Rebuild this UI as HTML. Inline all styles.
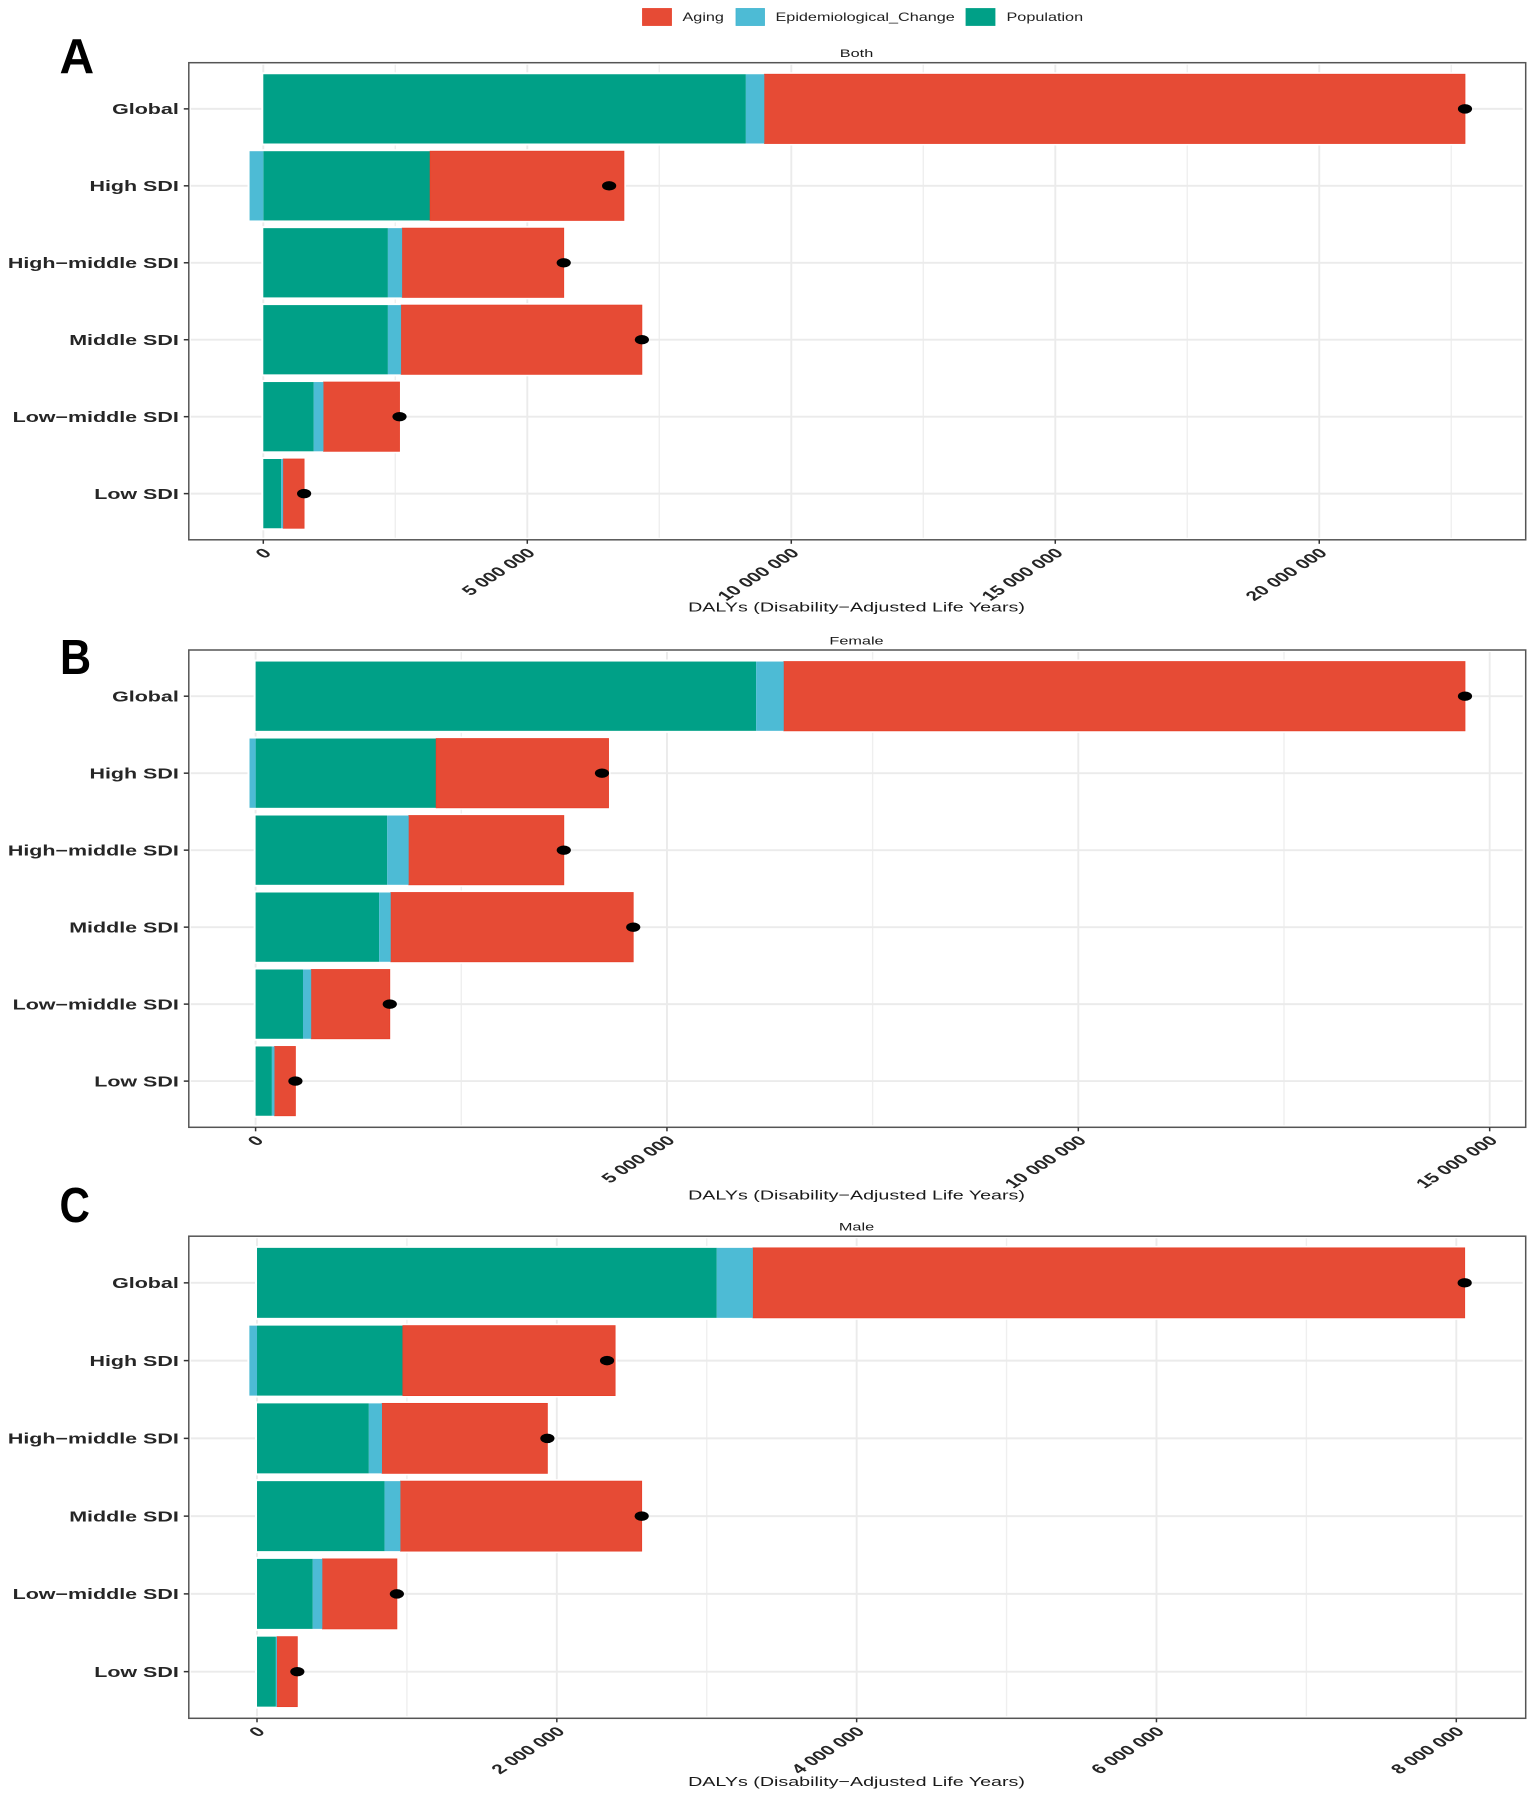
<!DOCTYPE html>
<html lang="en">
<head>
<meta charset="utf-8">
<title>DALYs decomposition by SDI</title>
<style>
  html, body { margin: 0; padding: 0; background: #fff; }
  svg { display: block; }
  text { font-family: "Liberation Sans", Arial, sans-serif; }
</style>
</head>
<body>
<svg id="chart" xmlns="http://www.w3.org/2000/svg" width="1535" height="1797" viewBox="0 0 1535 1797">
  <g>
    <g>
      <rect x="642.5" y="8.5" width="29" height="17" fill="#E64B35" stroke="#e8412b" stroke-width="0.8"/>
      <text transform="translate(682.5,21) scale(1.41,1)" font-size="11.5" fill="#222">Aging</text>
    </g>
    <g>
      <rect x="736" y="8.5" width="28.5" height="17" fill="#4DBBD5" stroke="#3fb4d0" stroke-width="0.8"/>
      <text transform="translate(775.5,21) scale(1.41,1)" font-size="11.5" fill="#222">Epidemiological_Change</text>
    </g>
    <g>
      <rect x="966" y="8.5" width="29" height="17" fill="#00A087" stroke="#00a087" stroke-width="0.8"/>
      <text transform="translate(1006.5,21) scale(1.41,1)" font-size="11.5" fill="#222">Population</text>
    </g>
  </g>
  <text transform="translate(59.5,73) scale(0.98,1)" font-size="49" font-weight="700" fill="#000">A</text>
  <text transform="translate(60,674) scale(0.88,1)" font-size="49" font-weight="700" fill="#000">B</text>
  <text transform="translate(59.5,1222) scale(0.86,1)" font-size="49" font-weight="700" fill="#000">C</text>
</svg>
<script>
const categories = ["Global", "High SDI", "High\u2212middle SDI", "Middle SDI", "Low\u2212middle SDI", "Low SDI"];

const bothPopulation = [9140000, 3160000, 2360000, 2360000, 956000, 337000];
const bothEpidemiological = [350000, -260000, 270000, 250000, 184000, 39000];
const bothAging = [13270000, 3670000, 3060000, 4560000, 1440000, 397000];
const bothTotal = [22760000, 6550000, 5690000, 7170000, 2580000, 773000];
const bothTicks = [0, 5000000, 10000000, 15000000, 20000000];
const bothTickLabels = ["0", "5 000 000", "10 000 000", "15 000 000", "20 000 000"];
const bothMinorTicks = [2500000, 7500000, 12500000, 17500000, 22500000];

const femalePopulation = [6084000, 2195000, 1600000, 1501000, 576000, 198000];
const femaleEpidemiological = [336000, -74000, 261000, 142000, 100000, 32000];
const femaleAging = [8280000, 2095000, 1885000, 2947000, 955000, 254000];
const femaleTotal = [14700000, 4210000, 3746000, 4590000, 1631000, 484000];
const femaleTicks = [0, 5000000, 10000000, 15000000];
const femaleTickLabels = ["0", "5 000 000", "10 000 000", "15 000 000"];
const femaleMinorTicks = [2500000, 7500000, 12500000];

const malePopulation = [3067000, 973000, 746000, 851000, 372000, 126000];
const maleEpidemiological = [241000, -51000, 88000, 106000, 64000, 7000];
const maleAging = [4748000, 1416000, 1103000, 1609000, 497000, 136000];
const maleTotal = [8056000, 2335000, 1937000, 2566000, 933000, 269000];
const maleTicks = [0, 2000000, 4000000, 6000000, 8000000];
const maleTickLabels = ["0", "2 000 000", "4 000 000", "6 000 000", "8 000 000"];
const maleMinorTicks = [1000000, 3000000, 5000000, 7000000];

const SVG_NS = "http://www.w3.org/2000/svg";
const root = document.getElementById("chart");
const STRETCH = 1.48;

function make(parent, tag, attrs) {
  const el = document.createElementNS(SVG_NS, tag);
  for (const k in attrs) el.setAttribute(k, attrs[k]);
  parent.appendChild(el);
  return el;
}

function drawPanel(p) {
  const { top, bottom, left, right, domainMin, domainMax } = p;
  const xScale = v => left + (v - domainMin) / (domainMax - domainMin) * (right - left);
  const step = (bottom - top) / (categories.length + 0.2);
  const yScale = i => top + (i + 0.6) * step;
  const barH = step * 0.9;

  const panel = make(root, "g", {});
  
  

  // gridlines
  p.minorTicks.forEach(v => {
    const g = make(panel, "line", { x1: xScale(v), x2: xScale(v), y1: top + 2, y2: bottom - 2, stroke: "#efefef", "stroke-width": 1.4 });
    
    
  });
  p.ticks.forEach(v => {
    const g = make(panel, "line", { x1: xScale(v), x2: xScale(v), y1: top + 2, y2: bottom - 2, stroke: "#ebebeb", "stroke-width": 1.9 });
    
    
  });
  categories.forEach((c, i) => {
    const g = make(panel, "line", { x1: left + 2, x2: right - 3, y1: yScale(i), y2: yScale(i), stroke: "#ebebeb", "stroke-width": 1.9 });
    
    
  });

  // bars
  categories.forEach((c, i) => {
    const y = yScale(i) - barH / 2;
    const pop = p.population[i], epi = p.epidemiological[i], age = p.aging[i];
    const epiStart = epi >= 0 ? pop : epi;
    const epiEnd = epi >= 0 ? pop + epi : 0;
    const ageStart = epi >= 0 ? pop + epi : pop;

    const minX = xScale(Math.min(0, epi));
    const maxX = xScale(ageStart + age);
    const halo = make(panel, "rect", { x: minX - 2, y: y - 2, width: maxX - minX + 4, height: barH + 4, fill: "#fff" });
    
    

    const popBar = make(panel, "rect", { x: xScale(0), y: y, width: xScale(pop) - xScale(0), height: barH, fill: "#00A087" });
    
    

    const ageBar = make(panel, "rect", { x: xScale(ageStart), y: y, width: xScale(ageStart + age) - xScale(ageStart), height: barH, fill: "#E64B35", stroke: "#e8412b", "stroke-width": 0.8 });
    
    

    const epiBar = make(panel, "rect", { x: xScale(epiStart), y: y, width: xScale(epiEnd) - xScale(epiStart), height: barH, fill: "#4DBBD5" });
    
    
  });

  // total points
  categories.forEach((c, i) => {
    const dot = make(panel, "ellipse", { cx: xScale(p.total[i]), cy: yScale(i), rx: 7.1, ry: 4.7, fill: "#000" });
    
    
  });

  // panel border
  const frame = make(panel, "rect", { x: left, y: top, width: right - left, height: bottom - top, fill: "none", stroke: "#555", "stroke-width": 1.5 });
  
  

  // y axis
  categories.forEach((c, i) => {
    const t = make(panel, "line", { x1: left - 5, x2: left, y1: yScale(i), y2: yScale(i), stroke: "#333", "stroke-width": 1.5 });
    
    
    const l = make(panel, "text", { transform: "translate(" + (left - 10) + "," + (yScale(i) + 5.2) + ") scale(" + STRETCH + ",1)", "text-anchor": "end", "font-size": 14.5, "font-weight": 700, fill: "#262626" });
    l.textContent = c;
    
    
  });

  // x axis
  p.ticks.forEach((v, i) => {
    const t = make(panel, "line", { x1: xScale(v), x2: xScale(v), y1: bottom, y2: bottom + 4, stroke: "#333", "stroke-width": 1.5 });
    
    
    const l = make(panel, "text", { transform: "translate(" + (xScale(v) + 9) + "," + (bottom + 14) + ") scale(1.55,1) rotate(-45)", "text-anchor": "end", "font-size": 13.5, "font-weight": 700, fill: "#262626" });
    l.textContent = p.tickLabels[i];
    
    
  });

  const xTitle = make(panel, "text", { transform: "translate(856.5," + p.xTitleY + ") scale(" + STRETCH + ",1)", "text-anchor": "middle", "font-size": 13.3, fill: "#1a1a1a" });
  xTitle.textContent = "DALYs (Disability\u2212Adjusted Life Years)";
  
  

  const title = make(panel, "text", { transform: "translate(856.5," + p.titleY + ") scale(" + STRETCH + ",1)", "text-anchor": "middle", "font-size": 11, fill: "#1a1a1a" });
  title.textContent = p.title;
  
  
}

drawPanel({
  name: "panel-both", title: "Both",
  top: 62.7, bottom: 539.8, left: 188.8, right: 1525.7, domainMin: -1411000, domainMax: 23910000,
  titleY: 57, xTitleY: 611.5,
  population: bothPopulation, epidemiological: bothEpidemiological, aging: bothAging, total: bothTotal,
  ticks: bothTicks, tickLabels: bothTickLabels, minorTicks: bothMinorTicks
});
drawPanel({
  name: "panel-female", title: "Female",
  top: 650, bottom: 1127.3, left: 188.8, right: 1525.7, domainMin: -812000, domainMax: 15438000,
  titleY: 644.5, xTitleY: 1199.5,
  population: femalePopulation, epidemiological: femaleEpidemiological, aging: femaleAging, total: femaleTotal,
  ticks: femaleTicks, tickLabels: femaleTickLabels, minorTicks: femaleMinorTicks
});
drawPanel({
  name: "panel-male", title: "Male",
  top: 1236.2, bottom: 1718.3, left: 188.8, right: 1525.7, domainMin: -455000, domainMax: 8463000,
  titleY: 1230.5, xTitleY: 1786,
  population: malePopulation, epidemiological: maleEpidemiological, aging: maleAging, total: maleTotal,
  ticks: maleTicks, tickLabels: maleTickLabels, minorTicks: maleMinorTicks
});
</script>
</body>
</html>
